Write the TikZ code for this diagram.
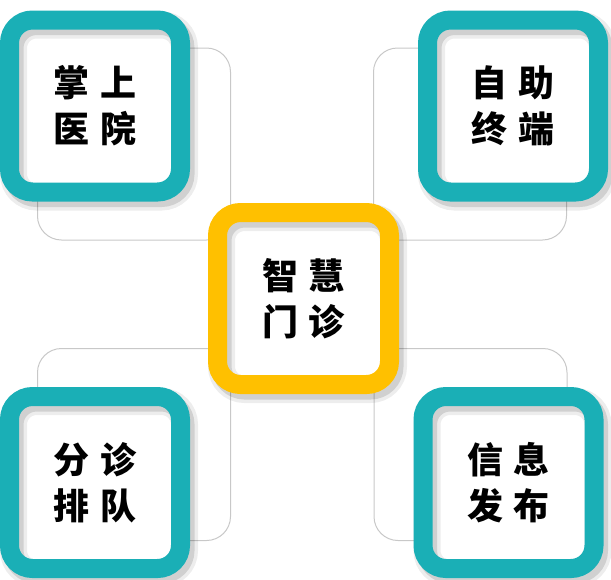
\documentclass[tikz,border=0pt]{standalone}
\usepackage{fontspec}
\newfontfamily\cjk{Noto Sans CJK SC}
\usetikzlibrary{backgrounds}
\definecolor{tealring}{RGB}{26,175,182}
\definecolor{goldring}{RGB}{255,192,0}
\definecolor{linkgray}{RGB}{200,200,200}

\begin{document}
\begin{tikzpicture}
  [x=1pt,y=-1pt,
    tile/.style={draw,line width=19pt,rounded corners=23pt,
      minimum width=171pt,minimum height=172pt,inner sep=0pt,align=center,
      font=\cjk\bfseries\fontsize{36}{46}\selectfont,
      preaction={fill=white},
      preaction={draw=black,draw opacity=.07,line width=27pt,transform canvas={shift={(4,5)}}},
      preaction={draw=black,draw opacity=.12,line width=20pt,transform canvas={shift={(4,5)}}}},
    side/.style={tile,draw=tealring},
    hub/.style={tile,draw=goldring,minimum width=172pt,minimum height=172pt},
    link/.style={draw=linkgray,line width=1pt,rounded corners=24pt},
  ]
  \useasboundingbox (0,0) rectangle (611,579);
  \node[side] (tl) at (95,106) {掌\hspace{11pt}上\\医\hspace{11pt}院};
  \node[side] (tr) at (513,106) {自\hspace{11pt}助\\终\hspace{11pt}端};
  \node[side] (bl) at (95,482.5) {分\hspace{11pt}诊\\排\hspace{11pt}队};
  \node[side] (br) at (508.5,482.5) {信\hspace{11pt}息\\发\hspace{11pt}布};
  \node[hub] (c) at (303.5,298.5) {智\hspace{11pt}慧\\门\hspace{11pt}诊};
  % gray frames behind, shifted from each tile toward the hub
  \begin{scope}[on background layer]
    \foreach \n/\dx/\dy in {tl/39/38,tr/-43/38,bl/39/-38,br/-38/-38}
      \draw[link] ([shift={(\dx-96.5,\dy-96)}]\n.center) rectangle ++(193,192);
  \end{scope}
\end{tikzpicture}
\end{document}
